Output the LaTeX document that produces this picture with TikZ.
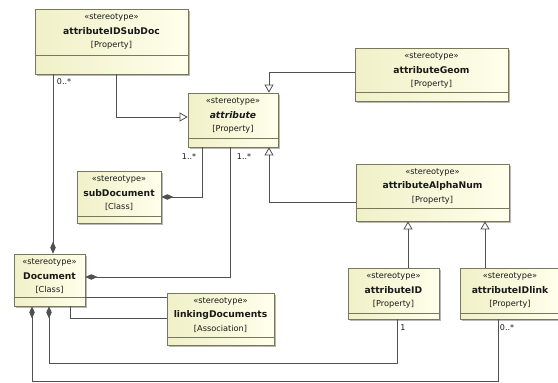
\documentclass[tikz,border=0pt]{standalone}
\usepackage{fontspec}
\setmainfont{DejaVu Sans}
\usetikzlibrary{arrows.meta,shadows,calc}
\definecolor{boxedge}{RGB}{120,120,92}
\definecolor{boxleft}{RGB}{240,240,200}
\definecolor{boxright}{RGB}{255,255,236}
\definecolor{wire}{RGB}{80,80,80}
\definecolor{ink}{RGB}{25,25,25}
\tikzset{
  umlbox/.style={draw=boxedge, line width=0.7pt, left color=boxleft, right color=boxright,
    inner sep=0pt, drop shadow={shadow xshift=1.6pt, shadow yshift=-1.6pt, fill=black!40, opacity=0.7}},
  divline/.style={draw=boxedge, line width=0.6pt},
  stereo/.style={inner sep=0pt, text=ink, font=\fontsize{8.2}{10}\selectfont},
  title/.style={inner sep=0pt, text=ink, font=\fontsize{9.2}{11}\selectfont\bfseries},
  mult/.style={inner sep=0pt, text=ink, font=\fontsize{8}{10}\selectfont},
  wireline/.style={draw=wire, line width=0.8pt},
  gen/.style={wireline, -{Triangle[open, length=8pt, width=9pt, fill=white]}},
  comp/.style={wireline, {Diamond[length=12pt, width=5.5pt, fill=wire]}-},
}
\newcommand{\umlbox}[8]{%
  \node[umlbox, minimum width={(#4-#2)*1pt}, minimum height={(#5-#3)*1pt}] (#1) at ({(#2+#4)/2},{(#3+#5)/2}) {};
  \draw[divline] (#1.west |- 0,#6) -- (#1.east |- 0,#6);
  \node[stereo] (#1-st) at ({(#2+#4)/2},{#3+8.5}) {«stereotype»};
  \node[title] (#1-nm) at ({(#2+#4)/2},{#3+22}) {#7};
  \node[stereo] (#1-kd) at ({(#2+#4)/2},{#3+36}) {#8};
}
\begin{document}
\begin{tikzpicture}[x=1pt,y=-1pt]
\useasboundingbox[fill=white] (0,0) rectangle (558,383);

\umlbox{subdoc}{35}{9}{188}{74}{55}{attributeIDSubDoc}{[Property]}
\umlbox{attr}{188}{93}{278}{147}{138}{\itshape attribute}{[Property]}
\umlbox{geom}{355}{48}{508}{101}{92}{attributeGeom}{[Property]}
\umlbox{alpha}{356}{164}{509}{221}{208}{attributeAlphaNum}{[Property]}
\umlbox{subdocument}{77}{171}{161}{223}{216}{subDocument}{[Class]}
\umlbox{doc}{14}{254}{85}{306}{297}{Document}{[Class]}
\umlbox{link}{167}{293}{274}{345}{337}{linkingDocuments}{[Association]}
\umlbox{attrid}{348}{268}{439}{319}{313}{attributeID}{[Property]}
\umlbox{attridlink}{460}{268}{560}{319}{313}{attributeIDlink}{[Property]}

% generalizations
\draw[gen] (subdoc.south -| 116,0) |- (attr.west |- 0,117);
\draw[gen] (geom.west |- 0,72) -| (attr.north -| 269,0);
\draw[gen] (alpha.west |- 0,202) -| (attr.south -| 269,0);
\draw[gen] (attrid.north -| 408,0) -- (alpha.south -| 408,0);
\draw[gen] (attridlink.north -| 485,0) -- (alpha.south -| 485,0);

% compositions
\draw[comp] (doc.north -| 53,0) -- (subdoc.south -| 53,0);
\draw[comp] (subdocument.east) -| (attr.south -| 202,0);
\draw[comp] (doc.east |- 0,277) -| (attr.south -| 230,0);
\draw[comp] (doc.south -| 49,0) |- (397,363) -- (attrid.south -| 397,0);
\draw[comp] (doc.south -| 32,0) |- (498,381) -- (attridlink.south -| 498,0);

% associations to linkingDocuments
\draw[wireline] (doc.east |- 0,297) -- (link.west |- 0,297);
\draw[wireline] (doc.south -| 70,0) |- (link.west |- 0,318);

% multiplicities
\node[mult] (m1) at (64,82) {0..*};
\node[mult] (m2) at (189,157) {1..*};
\node[mult] (m3) at (244,157) {1..*};
\node[mult] (m4) at (403,328) {1};
\node[mult] (m5) at (507,328) {0..*};
\end{tikzpicture}
\end{document}
